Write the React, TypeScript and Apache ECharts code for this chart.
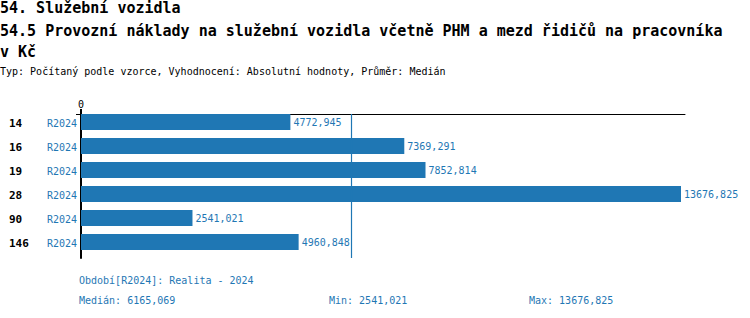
import React, { useEffect, useRef } from "react";
import * as echarts from "echarts";

const TITLE_MAIN = "54. Služební vozidla";
const TITLE_SUB_1 = "54.5 Provozní náklady na služební vozidla včetně PHM a mezd řidičů na pracovníka";
const TITLE_SUB_2 = "v Kč";
const INFO_LINE = "Typ: Počítaný podle vzorce, Vyhodnocení: Absolutní hodnoty, Průměr: Medián";

const CATEGORIES = ["14", "16", "19", "28", "90", "146"];
const PERIOD = "R2024";
const VALUES = [4772.945, 7369.291, 7852.814, 13676.825, 2541.021, 4960.848];
const PLACEHOLDER = [0, 0, 0, 0, 0, 0];

const PERIOD_TEXT = "Období[R2024]: Realita - 2024";
const MEDIAN = 6165.069;
const MIN = 2541.021;
const MAX = 13676.825;
const AXIS_MAX = 13768;

const BLUE = "#1f77b4";
const MONO = '"DejaVu Sans Mono", "Liberation Mono", monospace';

const fmt = (v: number) => v.toFixed(3).replace(".", ",");

export default function App() {
  const ref = useRef<HTMLDivElement>(null);

  useEffect(() => {
    if (!ref.current) return;
    const chart = echarts.init(ref.current, null, { renderer: "svg" });
    const option: any = {
      animation: false,
      backgroundColor: "#ffffff",
      textStyle: { fontFamily: MONO },
      grid: { left: 81, right: 65, top: 114, height: 144, containLabel: false },
      xAxis: {
        type: "value",
        position: "top",
        min: 0,
        max: AXIS_MAX,
        axisLine: { show: true, lineStyle: { color: "#000", width: 1 } },
        axisTick: { show: true, length: 5, customValues: [0], lineStyle: { color: "#000", width: 2 } },
        axisLabel: {
          show: true,
          customValues: [0],
          formatter: (v: number) => (v === 0 ? "0" : ""),
          color: "#000",
          fontSize: 10,
          fontFamily: MONO,
          margin: 5,
        },
        splitLine: { show: false },
      },
      yAxis: {
        type: "category",
        inverse: true,
        data: CATEGORIES,
        axisLine: { show: true, lineStyle: { color: "#000", width: 2 } },
        axisTick: { show: false },
        axisLabel: {
          margin: 4,
          padding: [0, 0, 6, 0],
          formatter: (v: string) => `{a|${v}}{b|${PERIOD}}`,
          rich: {
            a: { width: 38, align: "left", fontSize: 11, fontWeight: "bold", color: "#000", fontFamily: MONO },
            b: { fontSize: 10, color: BLUE, fontFamily: MONO },
          },
        },
      },
      series: [
        {
          type: "bar",
          data: VALUES,
          barWidth: 16,
          barGap: 0,
          itemStyle: { color: BLUE },
          label: {
            show: true,
            position: "right",
            distance: 3,
            color: BLUE,
            fontSize: 10,
            fontFamily: MONO,
            formatter: (p: any) => fmt(p.value),
          },
          markLine: {
            silent: true,
            symbol: "none",
            label: { show: false },
            lineStyle: { color: BLUE, width: 1.2, type: "solid", opacity: 1 },
            data: [{ xAxis: MEDIAN, lineStyle: { color: BLUE, width: 1.2, type: "solid" } }],
          },
        },
        {
          type: "bar",
          data: PLACEHOLDER,
          barWidth: 8,
          barGap: 0,
          silent: true,
          itemStyle: { color: "transparent" },
        },
      ],
      graphic: [
        { type: "text", x: 0, y: 7.6, style: { text: TITLE_MAIN, font: `bold 15px ${MONO}`, fill: "#000", verticalAlign: "middle" } },
        { type: "text", x: 0, y: 30.6, style: { text: TITLE_SUB_1, font: `bold 15px ${MONO}`, fill: "#000", verticalAlign: "middle" } },
        { type: "text", x: 0, y: 51.6, style: { text: TITLE_SUB_2, font: `bold 15px ${MONO}`, fill: "#000", verticalAlign: "middle" } },
        { type: "text", x: 0, y: 71.6, style: { text: INFO_LINE, font: `10px ${MONO}`, fill: "#000", verticalAlign: "middle" } },
        { type: "line", shape: { x1: 76, y1: 114.5, x2: 81, y2: 114.5 }, style: { stroke: "#000", lineWidth: 1 } },
        { type: "text", x: 79, y: 280.4, style: { text: PERIOD_TEXT, font: `10px ${MONO}`, fill: BLUE, verticalAlign: "middle" } },
        { type: "text", x: 79, y: 300.4, style: { text: `Medián: ${fmt(MEDIAN)}`, font: `10px ${MONO}`, fill: BLUE, verticalAlign: "middle" } },
        { type: "text", x: 329, y: 300.4, style: { text: `Min: ${fmt(MIN)}`, font: `10px ${MONO}`, fill: BLUE, verticalAlign: "middle" } },
        { type: "text", x: 529, y: 300.4, style: { text: `Max: ${fmt(MAX)}`, font: `10px ${MONO}`, fill: BLUE, verticalAlign: "middle" } },
      ],
    };
    chart.setOption(option);
    return () => chart.dispose();
  }, []);

  return (
    <div
      ref={ref}
      style={{ position: "fixed", left: 0, top: 0, width: 750, height: 318, background: "#fff" }}
    />
  );
}
